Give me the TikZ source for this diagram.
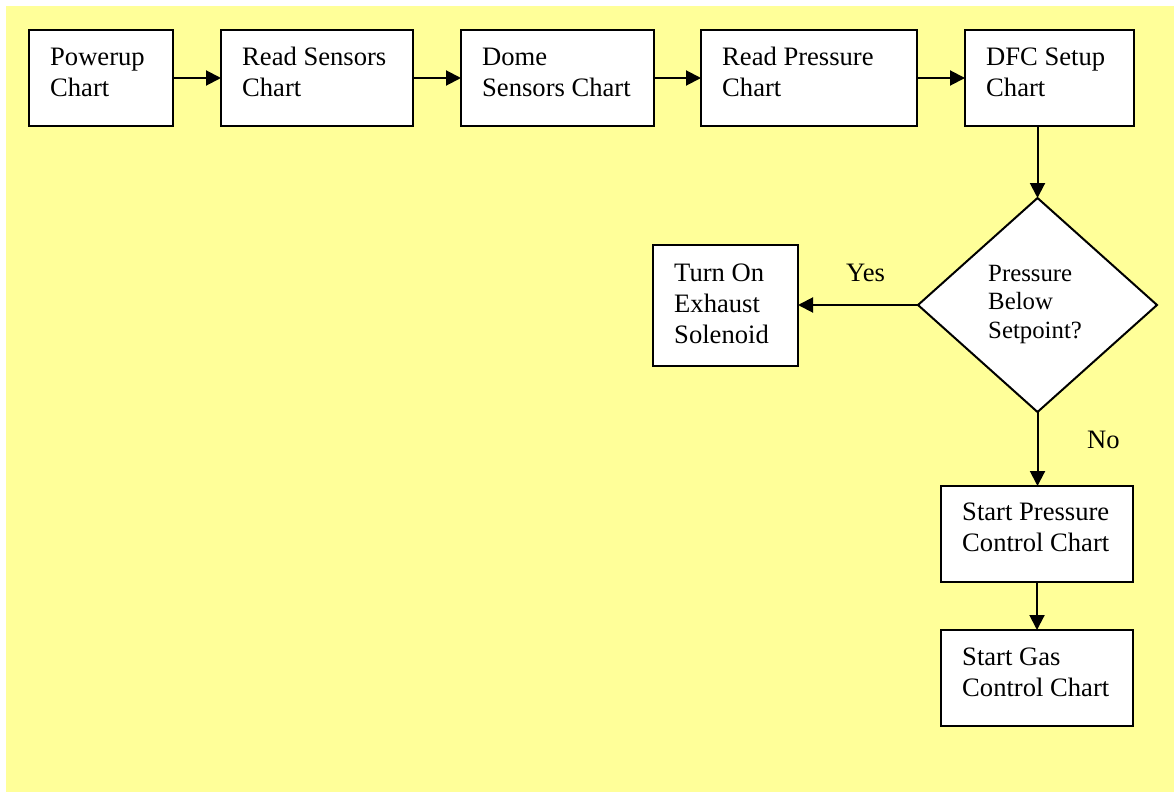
\documentclass[tikz,border=0pt]{standalone}
\usepackage{fontspec}
\setmainfont{Liberation Serif}
\usetikzlibrary{arrows.meta,shapes.geometric}
\definecolor{bgyellow}{RGB}{255,255,153}
\newcommand{\mylines}[1]{\begin{tabular}[t]{@{}l@{}}#1\end{tabular}}
\begin{document}
\begin{tikzpicture}[x=1pt,y=-1pt,
  box/.style={draw, line width=2pt, fill=white, rectangle, inner sep=0pt, outer sep=0pt},
  txt/.style={anchor=base west, inner sep=0pt, font=\fontsize{26.6}{31}\selectfont},
  dtxt/.style={anchor=base west, inner sep=0pt, font=\fontsize{24.8}{28.5}\selectfont},
  arr/.style={line width=2pt, -{Triangle[length=15pt,width=15pt]}}]
\useasboundingbox (0,0) rectangle (1174,792);
\fill[bgyellow] (6,6) rectangle (1174,792);
% boxes
\node[box, minimum width=144pt, minimum height=96pt] (p1) at (101,78) {};
\node[box, minimum width=192pt, minimum height=96pt] (p2) at (317,78) {};
\node[box, minimum width=193pt, minimum height=96pt] (p3) at (557.5,78) {};
\node[box, minimum width=216pt, minimum height=96pt] (p4) at (809,78) {};
\node[box, minimum width=169pt, minimum height=96pt] (p5) at (1049.5,78) {};
\node[draw, line width=2pt, fill=white, shape=diamond, inner sep=0pt, outer sep=0pt,
      minimum width=239pt, minimum height=214pt] (d) at (1037.5,305) {};
\node[box, minimum width=145pt, minimum height=121pt] (t) at (725.5,305.5) {};
\node[box, minimum width=192pt, minimum height=96pt] (sp) at (1037,534) {};
\node[box, minimum width=192pt, minimum height=96pt] (sg) at (1037,678) {};
% texts
\node[txt] (t1) at (50,66) {\mylines{Powerup\\Chart}};
\node[txt] (t2) at (242,66) {\mylines{Read Sensors\\Chart}};
\node[txt] (t3) at (482,66) {\mylines{Dome\\Sensors Chart}};
\node[txt] (t4) at (722,66) {\mylines{Read Pressure\\Chart}};
\node[txt] (t5) at (986,66) {\mylines{DFC Setup\\Chart}};
\node[dtxt] (td) at (988,281) {\mylines{Pressure\\Below\\Setpoint?}};
\node[txt] (tt) at (674,281) {\mylines{Turn On\\Exhaust\\Solenoid}};
\node[txt] (tsp) at (962,520) {\mylines{Start Pressure\\Control Chart}};
\node[txt] (tsg) at (962,665) {\mylines{Start Gas\\Control Chart}};
\node[txt] (yes) at (846,281) {Yes};
\node[txt] (no) at (1087,448) {No};
% arrows
\draw[arr] (p1) -- (p2);
\draw[arr] (p2) -- (p3);
\draw[arr] (p3) -- (p4);
\draw[arr] (p4) -- (p5);
\draw[arr] (d.north |- p5.south) -- (d.north);
\draw[arr] (d.west) -- (d.west -| t.east);
\draw[arr] (d.south) -- (d.south |- sp.north);
\draw[arr] (sp) -- (sg);
\end{tikzpicture}
\end{document}
